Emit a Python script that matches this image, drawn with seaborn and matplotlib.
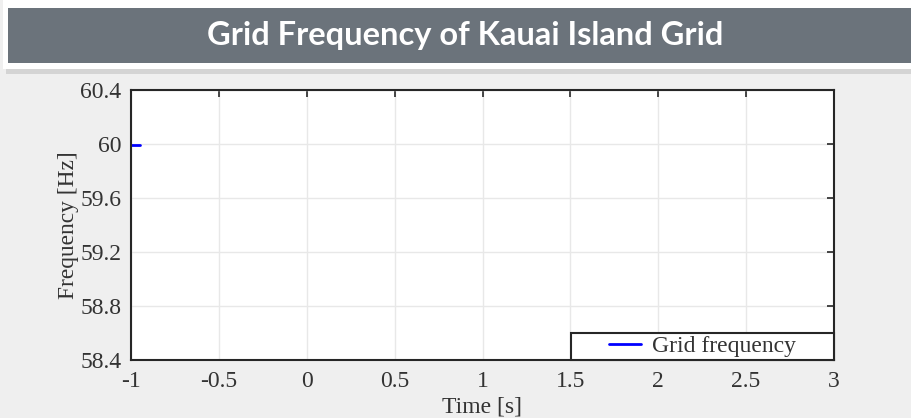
import matplotlib
matplotlib.use("Agg")
import matplotlib.pyplot as plt
from matplotlib.patches import Rectangle
import seaborn as sns
import pandas as pd

# Measured grid frequency trace
time_s = [-1.0, -0.98, -0.96, -0.95]
freq_hz = [59.99, 59.99, 59.99, 59.99]
x_ticks = [-1, -0.5, 0, 0.5, 1, 1.5, 2, 2.5, 3]
x_tick_labels = ["-1", "-0.5", "0", "0.5", "1", "1.5", "2", "2.5", "3"]
y_ticks = [58.4, 58.8, 59.2, 59.6, 60.0, 60.4]
y_tick_labels = ["58.4", "58.8", "59.2", "59.6", "60", "60.4"]
series_name = "Grid frequency"
title = "Grid Frequency of Kauai Island Grid"

df = pd.DataFrame({"Time": time_s, "Frequency": freq_hz, "series": series_name})

sns.set_theme(style="whitegrid")
plt.rcParams["font.family"] = ["Liberation Serif", "DejaVu Serif"]

W, H = 911, 418
fig = plt.figure(figsize=(W / 100, H / 100), dpi=100)
fig.patch.set_facecolor("#efefef")


def fig_rect(x0, y0, x1, y1, **kw):
    """Rectangle given in pixel coords (origin top-left)."""
    fig.patches.append(Rectangle((x0 / W, 1 - y1 / H), (x1 - x0) / W, (y1 - y0) / H,
                                 transform=fig.transFigure, **kw))


# Title banner with white frame and soft shadow
fig_rect(6, 66, 915, 74, facecolor="#d4d4d4", edgecolor="none", zorder=0)
fig_rect(3, 0, 915, 69, facecolor="white", edgecolor="none", zorder=1)
fig_rect(8, 8, 915, 63, facecolor="#6b737b", edgecolor="none", zorder=2)
fig.text(465 / W, 1 - 36 / H, title, ha="center", va="center", color="white",
         fontsize=23.5, fontweight="bold", family=["Lato", "DejaVu Sans"], zorder=3)

ax = fig.add_axes([131 / W, 1 - 360 / H, (834 - 131) / W, (360 - 90) / H])
ax.set_facecolor("white")
sns.lineplot(data=df, x="Time", y="Frequency", hue="series", palette=["#0000ff"],
             linewidth=2, ax=ax)

ax.set_xlim(-1, 3)
ax.set_ylim(58.4, 60.4)
ax.set_xticks(x_ticks)
ax.set_xticklabels(x_tick_labels)
ax.set_yticks(y_ticks)
ax.set_yticklabels(y_tick_labels)
ax.grid(True, color="#e8e8e8", linewidth=1)
for s in ax.spines.values():
    s.set_visible(True)
    s.set_color("#262626")
    s.set_linewidth(1.5)
ax.tick_params(axis="both", direction="in", length=5, width=1.2, color="#262626",
               labelsize=17, labelcolor="#333333", top=True, right=True)
ax.tick_params(axis="y", pad=7)
ax.tick_params(axis="x", pad=8)
ax.set_xlabel("Time [s]", fontsize=17, color="#333333", labelpad=3)
ax.set_ylabel("Frequency [Hz]", fontsize=16.8, color="#333333", labelpad=1)

# Legend: framed box at lower right, entry centred inside
box_x0 = (571 - 131) / (834 - 131)
box_h = 27 / (360 - 90)
ax.add_patch(Rectangle((box_x0, 0), 1 - box_x0, box_h, transform=ax.transAxes,
                       facecolor="white", edgecolor="#262626", linewidth=1.5,
                       zorder=5, clip_on=False))
handles, labels = ax.get_legend_handles_labels()
leg = ax.legend(handles, labels, loc="center",
                bbox_to_anchor=((box_x0 + 1) / 2, box_h / 2),
                frameon=False, fontsize=17, handlelength=1.36, handletextpad=0.5,
                borderpad=0, borderaxespad=0)
leg.set_zorder(6)
for t in leg.get_texts():
    t.set_color("#333333")

fig.savefig("out.png", dpi=100, facecolor=fig.get_facecolor())
